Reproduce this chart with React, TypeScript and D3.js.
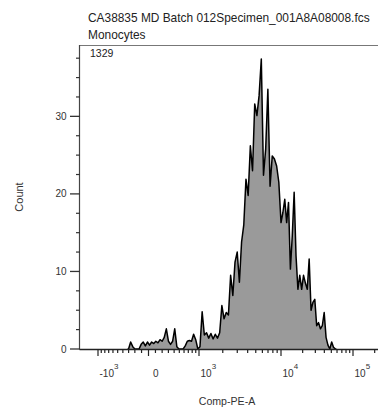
import React from 'react';
import * as d3 from 'd3';

const TITLE = 'CA38835 MD Batch 012Specimen_001A8A08008.fcs';
const SUBTITLE = 'Monocytes';
const EVENT_COUNT = '1329';
const X_LABEL = 'Comp-PE-A';
const Y_LABEL = 'Count';

// biexponential-like transform: asinh(x / cofactor)
const COFACTOR = 500;
// histogram bins, uniform in transformed units
const BIN_START = -0.6;
const BIN_WIDTH = 0.06;
const COUNTS = [
  0, 0.9, 0.3, 0, 0, 0, 0.6, 0.9, 0.4, 0.9,
  0.5, 0.9, 0.7, 1.0, 0.8, 1.2, 1.0, 1.5, 2.6, 1.0,
  0.6, 1.0, 2.6, 0.3, 0, 0, 0, 0.4, 1.0, 1.1,
  1.0, 1.9, 1.2, 0, 0.3, 4.8, 1.8, 2.1, 1.4, 2.0,
  1.3, 1.9, 1.4, 2.1, 5.6, 3.9, 4.7, 4.4, 9.5, 6.9,
  11.2, 12.5, 8.6, 13.8, 16.0, 21.9, 19.8, 26.2, 23.0, 31.6,
  30.1, 32.7, 37.4, 22.4, 25.8, 33.5, 21.0, 24.9, 24.5, 23.6,
  21.5, 16.3, 17.6, 19.3, 16.3, 18.9, 10.3, 14.6, 20.2, 12.0,
  7.7, 9.5, 7.7, 9.5, 8.5, 7.7, 11.6, 5.0, 6.0, 6.4,
  3.0, 3.4, 2.6, 3.0, 4.7, 1.5, 0.5, 0, 0.9, 0.2,
  0,
];

const X_MAJOR = [-1000, 0, 1000, 10000, 100000];
const X_MAJOR_BASE = ['-10', '0', '10', '10', '10'];
const X_MAJOR_EXP = ['3', '', '3', '4', '5'];
const X_MINOR = [
  -900, -800, -700, -600, -500, -400, -300, -200, -100,
  100, 200, 300, 400, 500, 600, 700, 800, 900,
  2000, 3000, 4000, 5000, 6000, 7000, 8000, 9000,
  20000, 30000, 40000, 50000, 60000, 70000, 80000, 90000,
  200000,
];
const Y_MAJOR = [0, 10, 20, 30];
const Y_MINOR = [2.5, 5, 7.5, 12.5, 15, 17.5, 22.5, 25, 27.5, 32.5, 35, 37.5];
const Y_MAX = 39.2;

const W = 378;
const H = 411;
const LEFT = 80;
const TOP = 45;
const BOTTOM = 349;
const RIGHT = 384;
const FONT = '"Liberation Sans", Arial, Helvetica, sans-serif';

const tf = (v: number) => Math.asinh(v / COFACTOR);

export default function App() {
  const x = d3
    .scaleLinear()
    .domain(X_MAJOR.map(tf))
    .range([98, 148.5, 199, 281, 353]);
  const y = d3.scaleLinear().domain([0, Y_MAX]).range([BOTTOM, TOP]);

  const pts: [number, number][] = [];
  pts.push([BIN_START, 0]);
  COUNTS.forEach((c, i) => pts.push([BIN_START + BIN_WIDTH * (i + 0.5), c]));
  pts.push([BIN_START + BIN_WIDTH * COUNTS.length, 0]);

  const area = d3
    .area<[number, number]>()
    .x((d) => x(d[0]))
    .y0(y(0))
    .y1((d) => y(d[1]));
  const line = d3
    .line<[number, number]>()
    .x((d) => x(d[0]))
    .y((d) => y(d[1]));

  return (
    <svg
      width={W}
      height={H}
      style={{ position: 'absolute', left: 0, top: 0, background: '#fff' }}
      fontFamily={FONT}
    >
      <rect x={0} y={0} width={W} height={H} fill="#fff" />
      <text x={88} y={22} fontSize={11.9} fill="#222">{TITLE}</text>
      <text x={88} y={38.5} fontSize={11.9} fill="#222">{SUBTITLE}</text>

      {/* histogram */}
      <path d={area(pts) || ''} fill="#9a9a9a" />
      <path d={line(pts) || ''} fill="none" stroke="#000" strokeWidth={1.5} strokeLinejoin="round" />

      {/* frame */}
      <line x1={LEFT - 0.5} x2={RIGHT} y1={TOP + 0.5} y2={TOP + 0.5} stroke="#777" strokeWidth={1} />
      <line x1={LEFT - 0.5} x2={LEFT - 0.5} y1={TOP} y2={BOTTOM + 0.5} stroke="#444" strokeWidth={1.2} />
      <line x1={LEFT - 0.5} x2={RIGHT} y1={BOTTOM + 0.5} y2={BOTTOM + 0.5} stroke="#222" strokeWidth={1.3} />

      <text x={90} y={57} fontSize={10.5} fill="#222">{EVENT_COUNT}</text>

      {/* y ticks */}
      {Y_MAJOR.map((v) => (
        <g key={'ym' + v}>
          <line x1={LEFT - 10} x2={LEFT} y1={y(v)} y2={y(v)} stroke="#333" strokeWidth={1.3} />
          <text x={66.5} y={y(v) + 3.5} fontSize={10} textAnchor="end" fill="#333">{v}</text>
        </g>
      ))}
      {Y_MINOR.map((v) => (
        <line key={'yn' + v} x1={LEFT - 4} x2={LEFT} y1={y(v)} y2={y(v)} stroke="#333" strokeWidth={1.2} />
      ))}

      {/* x ticks */}
      {X_MAJOR.map((v, i) => {
        const px = x(tf(v));
        return (
          <g key={'xm' + v}>
            <line x1={px} x2={px} y1={BOTTOM} y2={BOTTOM + 7} stroke="#222" strokeWidth={1.2} />
            <text x={px + (v === 0 ? 4.5 : 1.5)} y={377} fontSize={10} fill="#333">
              {X_MAJOR_BASE[i]}
              {X_MAJOR_EXP[i] ? (
                <tspan fontSize={8} dy={-8}>{X_MAJOR_EXP[i]}</tspan>
              ) : null}
            </text>
          </g>
        );
      })}
      {X_MINOR.map((v) => {
        const px = x(tf(v));
        return <line key={'xn' + v} x1={px} x2={px} y1={BOTTOM} y2={BOTTOM + 4} stroke="#222" strokeWidth={1.2} />;
      })}

      <text x={227} y={405} fontSize={10.6} textAnchor="middle" fill="#333">{X_LABEL}</text>
      <text
        transform={`translate(23,197) rotate(-90)`}
        fontSize={11}
        textAnchor="middle"
        fill="#333"
      >
        {Y_LABEL}
      </text>
    </svg>
  );
}
